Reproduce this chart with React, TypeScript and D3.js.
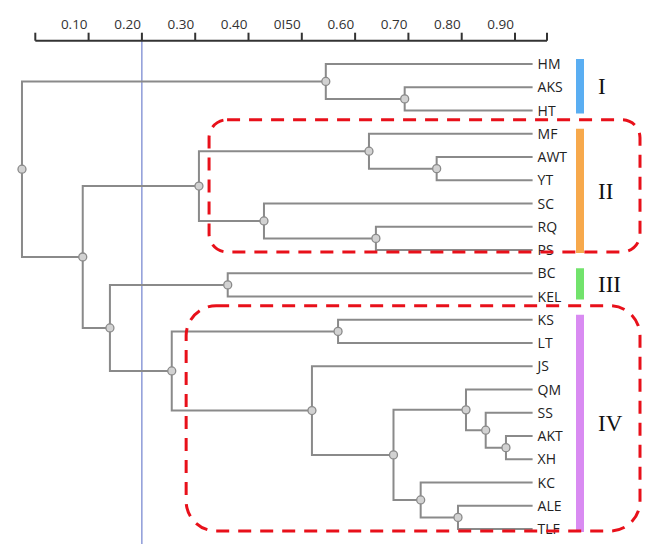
import React from "react";
import * as d3 from "d3";

const leaves = ["HM","AKS","HT","MF","AWT","YT","SC","RQ","PS","BC","KEL","KS","LT","JS","QM","SS","AKT","XH","KC","ALE","TLF"];
const leafValue = 0.933;

// [id, childA, childB, value]
const merges: [string, string, string, number][] = [
  ["n1", "AKS", "HT", 0.693],
  ["n2", "HM", "n1", 0.545],
  ["n3", "AWT", "YT", 0.753],
  ["n4", "MF", "n3", 0.626],
  ["n5", "RQ", "PS", 0.639],
  ["n6", "SC", "n5", 0.429],
  ["n7", "n4", "n6", 0.307],
  ["n8", "BC", "KEL", 0.361],
  ["n9", "KS", "LT", 0.568],
  ["n10", "AKT", "XH", 0.883],
  ["n11", "SS", "n10", 0.845],
  ["n12", "QM", "n11", 0.808],
  ["n13", "ALE", "TLF", 0.793],
  ["n14", "KC", "n13", 0.723],
  ["n15", "n12", "n14", 0.672],
  ["n16", "JS", "n15", 0.519],
  ["n17", "n9", "n16", 0.256],
  ["n18", "n8", "n17", 0.14],
  ["n19", "n7", "n18", 0.089],
  ["root", "n2", "n19", -0.025],
];

const tickValues = [0.1, 0.2, 0.3, 0.4, 0.5, 0.6, 0.7, 0.8, 0.9];
const tickLabels = ["0.10", "0.20", "0.30", "0.40", "0I50", "0.60", "0.70", "0.80", "0.90"];
const axisEnd = 0.96;
const cutValue = 0.2;

const groupNames = ["I", "II", "III", "IV"];
const groupFirst = ["HM", "MF", "BC", "KS"];
const groupLast = ["HT", "PS", "KEL", "TLF"];
const groupColors = ["#5aaef2", "#f7a94c", "#72e36c", "#d98bf2"];

// dashed boxes: group index, left edge value
const boxGroups = [1, 3];
const boxLeft = [0.326, 0.283];
const boxRadius = [18, 30];

export default function App() {
  const W = 650, H = 544;
  const x = d3.scaleLinear().domain([0, axisEnd]).range([35.3, 547]);
  const yLeaf = d3.scaleLinear().domain([0, leaves.length - 1]).range([64, 529]);

  const pos: Record<string, { x: number; y: number }> = {};
  leaves.forEach((l, i) => (pos[l] = { x: x(leafValue), y: yLeaf(i) }));
  merges.forEach(([id, a, b, v]) => {
    pos[id] = { x: x(v), y: (pos[a].y + pos[b].y) / 2 };
  });

  const axisY = 40.7;
  const lineColor = "#8a8a8a";

  const paths: string[] = [];
  merges.forEach(([id, a, b]) => {
    const p = pos[id], pa = pos[a], pb = pos[b];
    paths.push(`M${pa.x},${pa.y}H${p.x}V${pb.y}H${pb.x}`);
  });

  const boxRight = 640;

  return (
    <svg width={W} height={H} style={{ position: "absolute", left: 0, top: 0, background: "#fff" }}>
      {/* cut line */}
      <line x1={x(cutValue)} x2={x(cutValue)} y1={axisY} y2={H} stroke="#5468c4" strokeWidth={1} />
      {/* axis */}
      <g>
        <line x1={x(0)} x2={x(axisEnd)} y1={axisY} y2={axisY} stroke="#333" strokeWidth={2} />
        {[0, ...tickValues, axisEnd].map((t, i) => (
          <line key={i} x1={x(t)} x2={x(t)} y1={axisY} y2={axisY - 8} stroke="#333" strokeWidth={2} />
        ))}
        {tickValues.map((t, i) => (
          <text key={i} x={x(t) - 1} y={29} textAnchor="end" fontFamily="'Open Sans', sans-serif" fontSize={13.5} fill="#333">
            {tickLabels[i]}
          </text>
        ))}
      </g>
      {/* tree */}
      <g fill="none" stroke={lineColor} strokeWidth={2}>
        {paths.map((d, i) => (
          <path key={i} d={d} />
        ))}
      </g>
      {merges.map(([id]) => (
        <circle key={id} cx={pos[id].x} cy={pos[id].y} r={4} fill="#d2d2d2" stroke="#8a8a8a" strokeWidth={1.3} />
      ))}
      {/* leaf labels */}
      {leaves.map((l, i) => (
        <text key={l} x={x(leafValue) + 5} y={yLeaf(i)} dy="0.36em" fontFamily="'Open Sans', sans-serif" fontSize={14} fill="#222">
          {l}
        </text>
      ))}
      {/* group bars */}
      {groupNames.map((g, i) => {
        const y0 = pos[groupFirst[i]].y - 5;
        const y1 = pos[groupLast[i]].y + 3;
        return (
          <g key={g}>
            <rect x={576} y={y0} width={8} height={y1 - y0} fill={groupColors[i]} />
            <text x={598} y={(y0 + y1) / 2} dy="0.35em" fontFamily="'Liberation Serif', 'Times New Roman', serif" fontSize={23} fill="#111">
              {g}
            </text>
          </g>
        );
      })}
      {/* dashed boxes */}
      {boxGroups.map((gi, i) => {
        const y0 = pos[groupFirst[gi]].y - 14;
        const y1 = pos[groupLast[gi]].y + 2;
        const x0 = x(boxLeft[i]);
        return (
          <rect key={gi} x={x0} y={y0} width={boxRight - x0} height={y1 - y0} rx={boxRadius[i]} ry={boxRadius[i]}
            fill="none" stroke="#e8101a" strokeWidth={3} strokeDasharray="13 9" />
        );
      })}
    </svg>
  );
}
